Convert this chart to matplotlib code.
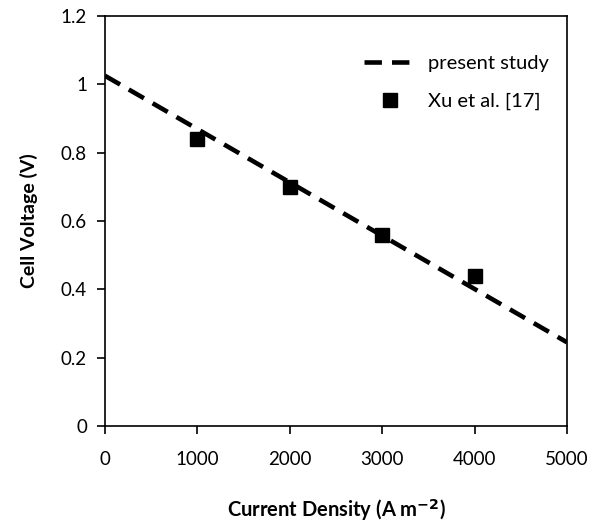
import matplotlib
matplotlib.use("Agg")
import matplotlib.pyplot as plt
import numpy as np

plt.rcParams['font.family'] = ['Lato', 'DejaVu Sans']

# model line (present study)
model_x = [0, 5000]
model_v = [1.025, 0.245]

# experimental data (Xu et al. [17])
exp_x = [1000, 2000, 3000, 4000]
exp_v = [0.84, 0.70, 0.56, 0.44]

xticks = [0, 1000, 2000, 3000, 4000, 5000]
yticks = [0, 0.2, 0.4, 0.6, 0.8, 1.0, 1.2]
yticklabels = ['0', '0.2', '0.4', '0.6', '0.8', '1', '1.2']

fig = plt.figure(figsize=(6.01, 5.24), dpi=100)
ax = fig.add_axes([0.1747, 0.187, 0.9434 - 0.1747, 0.9695 - 0.187])

ax.plot(model_x, model_v, color='black', lw=3.3, linestyle=(0, (3.8, 2.2)),
        label='present study', zorder=3)
ax.plot(exp_x, exp_v, linestyle='none', marker='s', markersize=10,
        color='black', label='Xu et al. [17]', zorder=4)

ax.set_xlim(0, 5000)
ax.set_ylim(0, 1.2)
ax.set_xticks(xticks)
ax.set_xticklabels([str(t) for t in xticks])
ax.set_yticks(yticks)
ax.set_yticklabels(yticklabels)

for s in ax.spines.values():
    s.set_linewidth(1.2)
ax.tick_params(axis='both', direction='out', length=6, width=1.2,
               labelsize=13.5, pad=7)
ax.tick_params(axis='x', pad=12)

ax.set_xlabel('Current Density (A m$^{\\mathbf{-2}}$)', fontsize=14.5,
              fontweight='bold', labelpad=21)
ax.set_ylabel('Cell Voltage (V)', fontsize=14, fontweight='bold', labelpad=16)

leg = ax.legend(loc='upper right', frameon=False, fontsize=14.5,
                handlelength=2.6, handletextpad=0.6, labelspacing=1.05,
                bbox_to_anchor=(1.0, 0.95))

fig.savefig('out.png', dpi=100)
